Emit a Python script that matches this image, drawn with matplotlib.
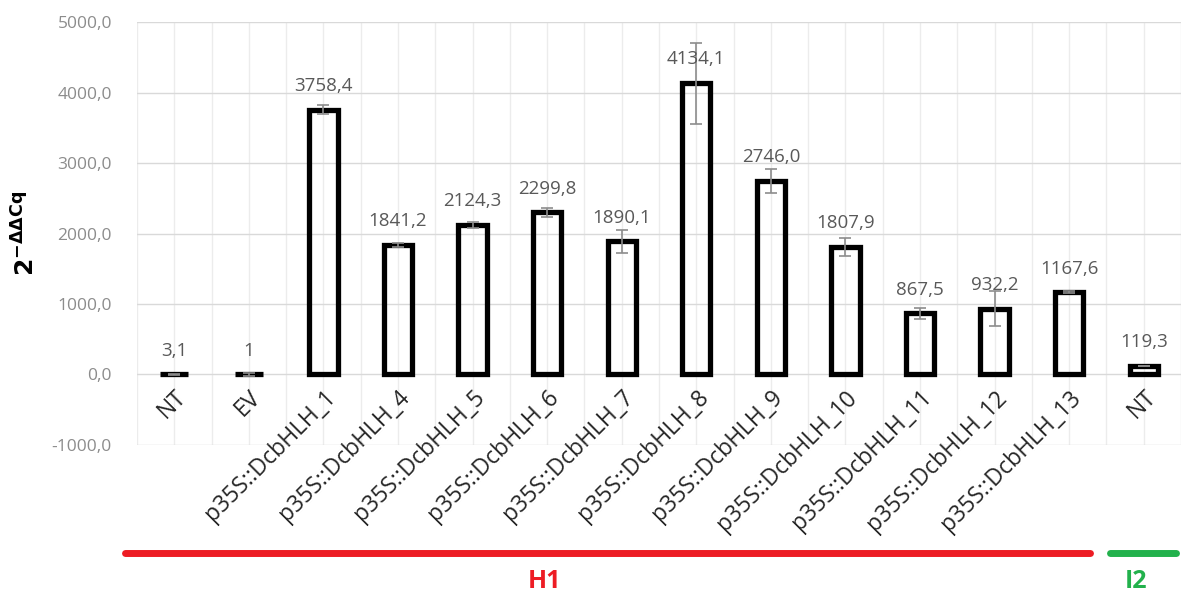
import numpy as np
import matplotlib.pyplot as plt
from matplotlib.lines import Line2D

plt.rcParams['font.family'] = ['Open Sans', 'DejaVu Sans']
plt.rcParams['mathtext.fontset'] = 'dejavusans'

categories = ['NT', 'EV', 'p35S::DcbHLH_1', 'p35S::DcbHLH_4', 'p35S::DcbHLH_5',
              'p35S::DcbHLH_6', 'p35S::DcbHLH_7', 'p35S::DcbHLH_8', 'p35S::DcbHLH_9',
              'p35S::DcbHLH_10', 'p35S::DcbHLH_11', 'p35S::DcbHLH_12',
              'p35S::DcbHLH_13', 'NT']
values = [3.1, 1, 3758.4, 1841.2, 2124.3, 2299.8, 1890.1, 4134.1, 2746.0,
          1807.9, 867.5, 932.2, 1167.6, 119.3]
errors = [8, 25, 60, 30, 40, 60, 165, 575, 170, 130, 80, 250, 15, 5]
value_labels = ['3,1', '1', '3758,4', '1841,2', '2124,3', '2299,8', '1890,1',
                '4134,1', '2746,0', '1807,9', '867,5', '932,2', '1167,6', '119,3']
yticks = [-1000, 0, 1000, 2000, 3000, 4000, 5000]

fig = plt.figure(figsize=(11.84, 5.96), dpi=100)
ax = fig.add_axes([0.1157, 0.2534, 0.8818, 0.7096])

x = np.arange(len(categories))
ax.bar(x, values, width=0.38, fill=False, edgecolor='black', linewidth=3.8, zorder=3)
ax.errorbar(x, values, yerr=errors, fmt='none', ecolor='#8c8c8c', elinewidth=1.2,
            capsize=4.5, capthick=1.2, zorder=4)

for xi, v, lab in zip(x, values, value_labels):
    ax.annotate(lab, (xi, v), xytext=(0, 17), textcoords='offset points',
                ha='center', va='center', fontsize=13.5, color='#595959', zorder=5)

ax.set_xlim(-0.5, len(categories) - 0.5)
ax.set_ylim(-1000, 5000)
ax.set_yticks(yticks)
ax.set_yticklabels([f'{t:.1f}'.replace('.', ',') for t in yticks],
                   fontsize=12.5, color='#8c8c8c')

# category axis crosses at zero
ax.spines['bottom'].set_position(('data', 0))
for s in ax.spines.values():
    s.set_visible(False)
ax.set_xticks(x)
ax.set_xticklabels(categories, rotation=45, ha='right', rotation_mode='anchor',
                   fontsize=16.5, color='#262626')
ax.tick_params(axis='x', length=0, pad=8)
ax.tick_params(axis='y', length=0, pad=18)

ax.grid(axis='y', color='#d9d9d9', linewidth=1, zorder=0)
for g in np.arange(-0.5, len(categories), 0.5):
    ax.axvline(g, color='#ececec', linewidth=1, zorder=0)

ax.text(-0.105, 0.5, r'$\mathbf{2}^{\mathbf{-\Delta\Delta Cq}}$', transform=ax.transAxes,
        rotation=90, ha='center', va='center', fontsize=18, color='black')

# group bars under the chart
fig.add_artist(Line2D([125 / 1184, 1090 / 1184], [1 - 553 / 596, 1 - 553 / 596],
                      color='#ed1c24', linewidth=5, solid_capstyle='round'))
fig.add_artist(Line2D([1110 / 1184, 1176 / 1184], [1 - 553 / 596, 1 - 553 / 596],
                      color='#22b14c', linewidth=5, solid_capstyle='round'))
fig.text(545 / 1184, 1 - 581 / 596, 'H1', color='#ed1c24', fontsize=18,
         fontweight='bold', ha='center', va='center')
fig.text(1136 / 1184, 1 - 581 / 596, 'I2', color='#22b14c', fontsize=18,
         fontweight='bold', ha='center', va='center')

fig.savefig('out.png', dpi=100)
